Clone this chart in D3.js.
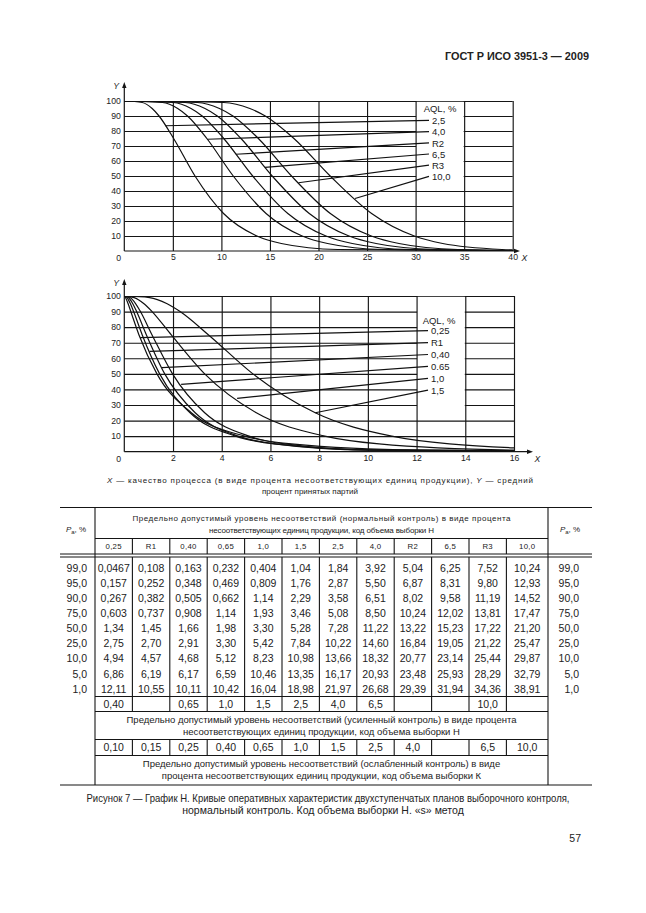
<!DOCTYPE html>
<html>
<head>
<meta charset="utf-8">
<script src="https://cdn.jsdelivr.net/npm/d3@7"></script>
<style>
  body { margin: 0; background: #fff; }
  svg { display: block; }
  text { font-family: "Liberation Sans", Arial, sans-serif; fill: #222; }
</style>
</head>
<body>
<div id="page"></div>
<script>
// Table values: Pa levels (rows) and acceptance quality limits (columns)
var paLevels = ["99,0", "95,0", "90,0", "75,0", "50,0", "25,0", "10,0", "5,0", "1,0"];
var aqlCodes = ["0,25", "R1", "0,40", "0,65", "1,0", "1,5", "2,5", "4,0", "R2", "6,5", "R3", "10,0"];

var colQ025 = ["0,0467", "0,157", "0,267", "0,603", "1,34", "2,75", "4,94", "6,86", "12,11"];
var colR1   = ["0,108", "0,252", "0,382", "0,737", "1,45", "2,70", "4,57", "6,19", "10,55"];
var colQ040 = ["0,163", "0,348", "0,505", "0,908", "1,66", "2,91", "4,68", "6,17", "10,11"];
var colQ065 = ["0,232", "0,469", "0,662", "1,14", "1,98", "3,30", "5,12", "6,59", "10,42"];
var colQ10  = ["0,404", "0,809", "1,14", "1,93", "3,30", "5,42", "8,23", "10,46", "16,04"];
var colQ15  = ["1,04", "1,76", "2,29", "3,46", "5,28", "7,84", "10,98", "13,35", "18,98"];
var colQ25  = ["1,84", "2,87", "3,58", "5,08", "7,28", "10,22", "13,66", "16,17", "21,97"];
var colQ40  = ["3,92", "5,50", "6,51", "8,50", "11,22", "14,60", "18,32", "20,93", "26,68"];
var colR2   = ["5,04", "6,87", "8,02", "10,24", "13,22", "16,84", "20,77", "23,48", "29,39"];
var colQ65  = ["6,25", "8,31", "9,58", "12,02", "15,23", "19,05", "23,14", "25,93", "31,94"];
var colR3   = ["7,52", "9,80", "11,19", "13,81", "17,22", "21,22", "25,44", "28,29", "34,36"];
var colQ100 = ["10,24", "12,93", "14,52", "17,47", "21,20", "25,47", "29,87", "32,79", "38,91"];
var columns = [colQ025, colR1, colQ040, colQ065, colQ10, colQ15, colQ25, colQ40, colR2, colQ65, colR3, colQ100];

var tightenedRow = ["0,40", "", "0,65", "1,0", "1,5", "2,5", "4,0", "6,5", "", "", "10,0", ""];
var reducedRow   = ["0,10", "0,15", "0,25", "0,40", "0,65", "1,0", "1,5", "2,5", "4,0", "", "6,5", "10,0"];

// chart legends
var topLabels = ["2,5", "4,0", "R2", "6,5", "R3", "10,0"];
var bottomLabels = ["0,25", "R1", "0,40", "0.65", "1,0", "1,5"];
var topLeaderPa = [83.5, 74.5, 64.5, 55.8, 45.5, 35];
var bottomLeaderPa = [73.3, 64.4, 54, 43.3, 34.3, 25];

var yTicks = [10, 20, 30, 40, 50, 60, 70, 80, 90, 100];
var topXTicks = [5, 10, 15, 20, 25, 30, 35, 40];
var bottomXTicks = [2, 4, 6, 8, 10, 12, 14, 16];

function num(s) { return +s.replace(",", "."); }

var width = 646, height = 913;
var svg = d3.select("#page").append("svg")
    .attr("width", width)
    .attr("height", height);
svg.append("rect").attr("width", width).attr("height", height).attr("fill", "#fff");

// header
svg.append("text")
    .attr("x", 589).attr("y", 59.5)
    .attr("text-anchor", "end")
    .attr("font-size", 11.5).attr("font-weight", "bold")
    .attr("textLength", 144).attr("lengthAdjust", "spacingAndGlyphs")
    .text("ГОСТ Р ИСО 3951-3 — 2009");

function drawChart(o) {
    var g = svg.append("g");
    var x0 = o.x.range()[0], x1 = o.x.range()[1];
    var y0 = o.y.range()[0], y1 = o.y.range()[1];

    // horizontal grid + y labels
    var ya = g.append("g")
        .attr("transform", "translate(" + x0 + ",0)")
        .call(d3.axisLeft(o.y).tickValues(yTicks).tickSize(-(x1 - x0)).tickPadding(3.5));
    ya.attr("font-size", 8.7);
    ya.select(".domain").remove();
    ya.selectAll(".tick line").attr("stroke", "#151515").attr("stroke-width", 1.15);

    // white legend box hides the horizontal grid
    g.append("rect")
        .attr("x", o.x(o.box[0]) + 0.5)
        .attr("y", o.y(100) + 0.8)
        .attr("width", o.x(o.box[1]) - o.x(o.box[0]) - 1)
        .attr("height", o.y(o.box[2]) - o.y(100) - 0.8)
        .attr("fill", "#fff");

    // vertical grid + x labels
    var xa = g.append("g")
        .attr("transform", "translate(0," + y0 + ")")
        .call(d3.axisBottom(o.x).tickValues(o.xTicks).tickSize(-(y0 - y1)).tickPadding(3));
    xa.attr("font-size", 8.7);
    xa.select(".domain").remove();
    xa.selectAll(".tick line").attr("stroke", "#151515").attr("stroke-width", 1.15);

    // axes with arrows
    g.append("line").attr("x1", x0).attr("y1", y0).attr("x2", x0).attr("y2", o.yTip + 4)
        .attr("stroke", "#151515").attr("stroke-width", 1.2);
    g.append("line").attr("x1", x0).attr("y1", y0).attr("x2", o.xTip - 4).attr("y2", y0)
        .attr("stroke", "#151515").attr("stroke-width", 1.2);
    g.append("path")
        .attr("d", "M" + x0 + "," + o.yTip + "l-2.2,6h4.4z")
        .attr("fill", "#151515");
    g.append("path")
        .attr("d", "M" + o.xTip + "," + y0 + "l-6,-2.2v4.4z")
        .attr("fill", "#151515");
    g.append("text").attr("x", x0 - 11).attr("y", o.yTip + 6.5)
        .attr("font-size", 8.7).attr("font-style", "italic").text("Y");
    g.append("text").attr("x", o.xTip + 1.5).attr("y", y0 + 10)
        .attr("font-size", 8.7).attr("font-style", "italic").text("X");
    g.append("text").attr("x", x0 - 8).attr("y", y0 + 10)
        .attr("font-size", 8.7).text("0");

    // curves
    var clipId = "clip" + o.id;
    g.append("clipPath").attr("id", clipId).append("rect")
        .attr("x", x0).attr("y", y1).attr("width", x1 - x0).attr("height", y0 - y1);

    var line = d3.line()
        .x(function (d) { return o.x(d[0]); })
        .y(function (d) { return o.y(d[1]); })
        .curve(d3.curveMonotoneX);

    var series = o.cols.map(function (ci) {
        var col = columns[ci];
        var pts = [[0, 100]];
        paLevels.forEach(function (p, i) { pts.push([num(col[i]), num(p)]); });
        pts.push([o.tailX, 0]);
        return pts;
    });

    g.append("g").attr("clip-path", "url(#" + clipId + ")")
        .selectAll("path").data(series).enter().append("path")
        .attr("d", line)
        .attr("fill", "none")
        .attr("stroke", "#111")
        .attr("stroke-width", 1.2);

    // legend
    g.append("text").attr("x", o.legendX + 8).attr("y", o.headY + 3.3)
        .attr("text-anchor", "middle").attr("font-size", 9.5).text("AQL, %");

    o.labels.forEach(function (lab, i) {
        var ly = o.labelY0 + i * o.labelStep;
        var pts = series[i];
        var interp = d3.scaleLinear()
            .domain(pts.map(function (d) { return d[1]; }))
            .range(pts.map(function (d) { return d[0]; }));
        var pa = o.leaderPa[i];
        g.append("line")
            .attr("x1", o.legendX - 3).attr("y1", ly - 0.3)
            .attr("x2", o.x(interp(pa))).attr("y2", o.y(pa))
            .attr("stroke", "#111").attr("stroke-width", 1.2);
        g.append("text").attr("x", o.legendX).attr("y", ly + 3.4)
            .attr("font-size", 9.5).text(lab);
    });
}

drawChart({
    id: 1,
    x: d3.scaleLinear().domain([0, 40]).range([124.3, 512.7]),
    y: d3.scaleLinear().domain([0, 100]).range([251, 101]),
    xTicks: topXTicks,
    cols: [6, 7, 8, 9, 10, 11],
    labels: topLabels,
    leaderPa: topLeaderPa,
    tailX: 45,
    box: [30, 35, 45],
    xTip: 520, yTip: 82,
    legendX: 432, headY: 108.5, labelY0: 120.7, labelStep: 11.2
});

drawChart({
    id: 2,
    x: d3.scaleLinear().domain([0, 16]).range([124.3, 514]),
    y: d3.scaleLinear().domain([0, 100]).range([451.7, 296]),
    xTicks: bottomXTicks,
    cols: [0, 1, 2, 3, 4, 5],
    labels: bottomLabels,
    leaderPa: bottomLeaderPa,
    tailX: 24,
    box: [12, 14, 25],
    xTip: 533, yTip: 279,
    legendX: 431, headY: 320.5, labelY0: 331, labelStep: 11.9
});

// chart caption
var cap1 = svg.append("text").attr("x", 320).attr("y", 483)
    .attr("text-anchor", "middle").attr("font-size", 8)
    .attr("textLength", 426).attr("lengthAdjust", "spacing");
cap1.append("tspan").attr("font-style", "italic").text("X");
cap1.append("tspan").text(" — качество процесса (в виде процента  несоответствующих  единиц  продукции),  ");
cap1.append("tspan").attr("font-style", "italic").text("Y");
cap1.append("tspan").text(" — средний");
svg.append("text").attr("x", 310).attr("y", 494)
    .attr("text-anchor", "middle").attr("font-size", 8)
    .attr("textLength", 96).attr("lengthAdjust", "spacing")
    .text("процент принятых партий");

// table
var tb = svg.append("g");
var tLeft = 60, tRight = 592, cL = 95, cR = 548;
var colW = 37.4;
var edges = d3.range(13).map(function (i) { return i < 12 ? cL + i * colW : cR; });
var centers = d3.range(12).map(function (i) { return (edges[i] + edges[i + 1]) / 2; });
var yTop = 507.5, yHdr = 538.5, yDbl1 = 554, yDbl2 = 557;
var row0 = 568, rowStep = 15.1;
var yAfterData = 696.5, yTightRow = 704, yAfterTight = 711.5;
var yStrict1 = 720, yStrict2 = 732, yAfterStrict = 739.5;
var yRedRow = 747.5, yAfterRed = 755.5;
var yRed1 = 763.5, yRed2 = 775.5, yBottom = 785;

function hline(y, xa, xb) {
    tb.append("line").attr("x1", xa).attr("x2", xb).attr("y1", y).attr("y2", y)
        .attr("stroke", "#151515").attr("stroke-width", 1.1);
}
function vline(x, ya, yb) {
    tb.append("line").attr("x1", x).attr("x2", x).attr("y1", ya).attr("y2", yb)
        .attr("stroke", "#151515").attr("stroke-width", 1.1);
}

hline(yTop, tLeft, tRight);
hline(yHdr, cL, cR);
hline(yDbl1, tLeft, tRight);
hline(yDbl2, tLeft, tRight);
hline(yAfterData, cL, cR);
hline(yAfterTight, cL, cR);
hline(yAfterStrict, cL, cR);
hline(yAfterRed, cL, cR);
hline(yBottom, tLeft, tRight);
vline(cL, yTop, yBottom);
vline(cR, yTop, yBottom);
edges.slice(1, 12).forEach(function (x) {
    vline(x, yHdr, yDbl1);
    vline(x, yDbl2, yAfterTight);
    vline(x, yAfterStrict, yAfterRed);
});

// header texts
tb.append("text").attr("x", (cL + cR) / 2).attr("y", 521).attr("text-anchor", "middle")
    .attr("font-size", 8).attr("textLength", 378).attr("lengthAdjust", "spacing")
    .text("Предельно допустимый уровень несоответствий (нормальный контроль) в виде процента");
tb.append("text").attr("x", (cL + cR) / 2).attr("y", 533).attr("text-anchor", "middle")
    .attr("font-size", 8).attr("textLength", 225).attr("lengthAdjust", "spacing")
    .text("несоответствующих единиц продукции, код объема выборки Н");

tb.selectAll("text.code").data(aqlCodes).enter().append("text")
    .attr("class", "code")
    .attr("x", function (d, i) { return centers[i]; })
    .attr("y", 549)
    .attr("text-anchor", "middle").attr("font-size", 7.8).attr("letter-spacing", 0.3)
    .text(function (d) { return d; });

function paLabel(x) {
    var t = tb.append("text").attr("x", x).attr("y", 532).attr("text-anchor", "middle")
        .attr("font-size", 8);
    t.append("tspan").attr("font-style", "italic").text("P");
    t.append("tspan").attr("dy", 2).attr("font-size", 6).text("a");
    t.append("tspan").attr("dy", -2).text(", %");
}
paLabel(76);
paLabel(570);

// data rows
paLevels.forEach(function (p, r) {
    var by = row0 + r * rowStep + 3.8;
    tb.append("text").attr("x", 87).attr("y", by).attr("text-anchor", "end")
        .attr("font-size", 10.5).text(p);
    tb.append("text").attr("x", 579).attr("y", by).attr("text-anchor", "end")
        .attr("font-size", 10.5).text(p);
    columns.forEach(function (col, c) {
        tb.append("text").attr("x", centers[c]).attr("y", by).attr("text-anchor", "middle")
            .attr("font-size", 10.5).text(col[r]);
    });
});

tb.selectAll("text.tight").data(tightenedRow).enter().append("text")
    .attr("class", "tight")
    .attr("x", function (d, i) { return centers[i]; })
    .attr("y", yTightRow + 3.8)
    .attr("text-anchor", "middle").attr("font-size", 10.5)
    .text(function (d) { return d; });

tb.selectAll("text.red").data(reducedRow).enter().append("text")
    .attr("class", "red")
    .attr("x", function (d, i) { return centers[i]; })
    .attr("y", yRedRow + 3.8)
    .attr("text-anchor", "middle").attr("font-size", 10.5)
    .text(function (d) { return d; });

var mid = (cL + cR) / 2;
[["Предельно допустимый уровень несоответствий (усиленный контроль) в виде процента", yStrict1],
 ["несоответствующих единиц продукции, код объема выборки Н", yStrict2],
 ["Предельно допустимый уровень несоответствий (ослабленный контроль) в виде", yRed1],
 ["процента несоответствующих единиц продукции, код объема выборки К", yRed2]]
    .forEach(function (d) {
        tb.append("text").attr("x", mid).attr("y", d[1] + 3.4).attr("text-anchor", "middle")
            .attr("font-size", 9.5).text(d[0]);
    });

// figure caption
svg.append("text").attr("x", 328).attr("y", 801.5).attr("text-anchor", "middle")
    .attr("font-size", 10.5).attr("textLength", 483).attr("lengthAdjust", "spacingAndGlyphs")
    .text("Рисунок 7 — График Н. Кривые оперативных характеристик двухступенчатых планов выборочного контроля,");
svg.append("text").attr("x", 323).attr("y", 814).attr("text-anchor", "middle")
    .attr("font-size", 10.5)
    .text("нормальный контроль. Код объема выборки Н. «s» метод");

// page number
svg.append("text").attr("x", 581).attr("y", 842).attr("text-anchor", "end")
    .attr("font-size", 10.5).text("57");
</script>
</body>
</html>
